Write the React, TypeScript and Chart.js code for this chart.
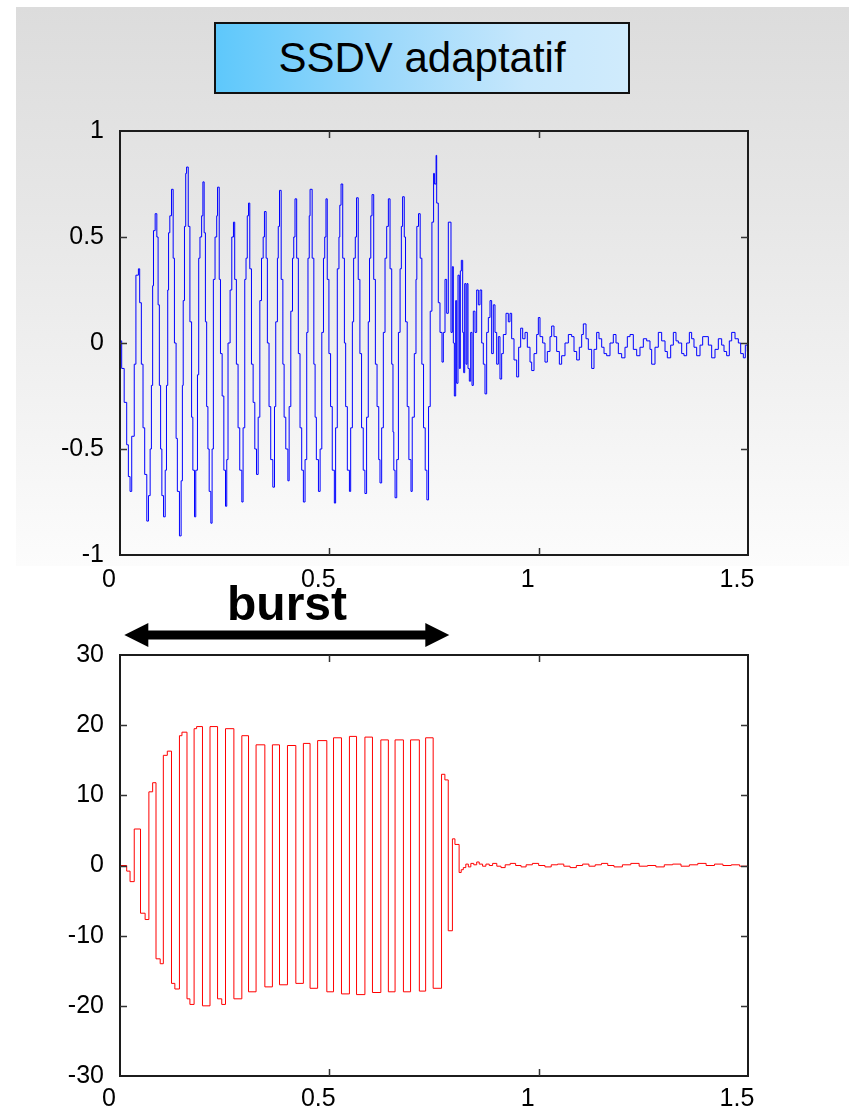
import React, { useEffect, useRef } from 'react';
import { Chart, registerables } from 'chart.js';

Chart.register(...registerables);

// ---------- tick labels ----------
const xTickValues = [0, 0.5, 1, 1.5];
const xTickLabels = ['0', '0.5', '1', '1.5'];
const topYTickValues = [-1, -0.5, 0, 0.5, 1];
const topYTickLabels = ['-1', '-0.5', '0', '0.5', '1'];
const bottomYTickValues = [-30, -20, -10, 0, 10, 20, 30];
const bottomYTickLabels = ['-30', '-20', '-10', '0', '10', '20', '30'];

// burst interval (seconds) marked by the double arrow
const burstSpan = [0.0103, 0.7865];

// ---------- top signal (blue), burst part ----------
const blueBurstT = [
  0.000, 0.004, 0.010, 0.016, 0.020, 0.024,
  0.028, 0.034, 0.038, 0.044, 0.047, 0.051, 0.055, 0.059, 0.064,
  0.068, 0.072, 0.075, 0.078, 0.080, 0.084, 0.088, 0.091, 0.094, 0.097, 0.100, 0.104,
  0.108, 0.111, 0.114, 0.116, 0.119, 0.123, 0.127, 0.130, 0.134, 0.137, 0.142,
  0.146, 0.149, 0.151, 0.154, 0.157, 0.159, 0.163, 0.167, 0.171, 0.174, 0.178,
  0.181, 0.185, 0.188, 0.191, 0.195, 0.198, 0.201, 0.204, 0.207, 0.210, 0.213, 0.217,
  0.220, 0.223, 0.227, 0.231, 0.233, 0.237, 0.240, 0.244, 0.248, 0.252,
  0.255, 0.258, 0.263, 0.267, 0.271, 0.274, 0.278, 0.282, 0.286, 0.291,
  0.294, 0.298, 0.301, 0.304, 0.307, 0.310, 0.314, 0.318, 0.322, 0.326,
  0.330, 0.334, 0.338, 0.342, 0.345, 0.349, 0.352, 0.356, 0.360, 0.365,
  0.369, 0.372, 0.376, 0.378, 0.381, 0.385, 0.389, 0.392, 0.396, 0.401,
  0.404, 0.408, 0.412, 0.415, 0.418, 0.422, 0.426, 0.430, 0.434, 0.438,
  0.442, 0.446, 0.449, 0.452, 0.454, 0.459, 0.463, 0.466, 0.469, 0.474,
  0.478, 0.482, 0.486, 0.489, 0.492, 0.495, 0.499, 0.503, 0.507, 0.512,
  0.515, 0.519, 0.523, 0.525, 0.528, 0.532, 0.536, 0.539, 0.543, 0.548,
  0.551, 0.555, 0.558, 0.562, 0.565, 0.569, 0.573, 0.577, 0.581, 0.585,
  0.589, 0.593, 0.596, 0.599, 0.602, 0.606, 0.610, 0.614, 0.618, 0.621,
  0.625, 0.629, 0.633, 0.637, 0.641, 0.645, 0.649, 0.652, 0.654, 0.657,
  0.661, 0.665, 0.669, 0.672, 0.675, 0.679, 0.682, 0.686, 0.690, 0.695,
  0.698, 0.703, 0.707, 0.709, 0.713, 0.717, 0.721, 0.725, 0.729, 0.733,
  0.737, 0.741, 0.745, 0.749, 0.751, 0.755,
];
const blueBurstV = [
  0.01, -0.12, -0.28, -0.48, -0.63, -0.70,
  -0.44, -0.10, 0.32, 0.35, 0.19, -0.10, -0.40, -0.62, -0.84,
  -0.72, -0.50, -0.20, 0.27, 0.53, 0.61, 0.50, 0.18, -0.20, -0.50, -0.72, -0.82,
  -0.60, -0.20, 0.25, 0.52, 0.60, 0.725, 0.40, 0.00, -0.45, -0.70, -0.91,
  -0.65, -0.20, 0.20, 0.55, 0.80, 0.83, 0.55, 0.10, -0.35, -0.60, -0.82,
  -0.60, -0.15, 0.40, 0.50, 0.60, 0.76, 0.52, 0.10, -0.30, -0.50, -0.70, -0.85,
  -0.50, 0.30, 0.50, 0.60, 0.735, 0.30, -0.05, -0.25, -0.60, -0.77,
  -0.55, 0.00, 0.25, 0.50, 0.57, 0.30, -0.10, -0.40, -0.60, -0.75,
  -0.40, 0.30, 0.40, 0.60, 0.66, 0.35, -0.10, -0.28, -0.50, -0.62,
  -0.35, 0.20, 0.40, 0.50, 0.62, 0.40, 0.00, -0.30, -0.55, -0.68,
  -0.30, 0.10, 0.40, 0.55, 0.72, 0.30, -0.10, -0.35, -0.50, -0.65,
  -0.30, 0.15, 0.40, 0.50, 0.68, 0.40, -0.05, -0.40, -0.60, -0.75,
  -0.55, 0.05, 0.40, 0.60, 0.725, 0.40, -0.10, -0.35, -0.55, -0.70,
  -0.50, 0.05, 0.40, 0.50, 0.68, 0.30, -0.05, -0.30, -0.60, -0.755,
  -0.40, 0.35, 0.50, 0.65, 0.75, 0.40, 0.00, -0.30, -0.60, -0.70,
  -0.40, 0.10, 0.40, 0.50, 0.685, 0.30, -0.05, -0.40, -0.60, -0.71,
  -0.35, 0.10, 0.40, 0.60, 0.70, 0.30, -0.10, -0.30, -0.55, -0.66,
  -0.40, 0.05, 0.40, 0.55, 0.68, 0.35, -0.10, -0.42, -0.60, -0.73,
  -0.55, 0.05, 0.35, 0.55, 0.69, 0.50, 0.10, -0.30, -0.55, -0.70,
  -0.35, -0.05, 0.30, 0.55, 0.61, 0.40, -0.10, -0.40, -0.60, -0.74,
  -0.30, 0.15, 0.57, 0.80, 0.75, 0.885,
];

// ---------- top signal (blue), decay / residual part ----------
const blueTailT = [
  0.7564, 0.7603, 0.7643, 0.7691, 0.7723, 0.7763, 0.7803, 0.7842, 0.7906, 0.7938,
  0.7962, 0.7986, 0.8018, 0.8041, 0.8073, 0.8105, 0.8129, 0.8153, 0.8185, 0.8209,
  0.8233, 0.8264, 0.8288, 0.8312, 0.8344, 0.8376, 0.8408, 0.8439, 0.8479, 0.8519,
  0.8559, 0.8599, 0.8639, 0.8678, 0.8718, 0.8758, 0.8798, 0.8838, 0.8877, 0.8917,
  0.8957, 0.8997, 0.9037, 0.9076, 0.9116, 0.9156, 0.9220, 0.9275, 0.9315, 0.9355,
  0.9411, 0.9475, 0.9522, 0.9570, 0.9618, 0.9674, 0.9729, 0.9793, 0.9833, 0.9889,
  0.9952, 0.9992, 1.0032, 1.0096, 1.0151, 1.0207, 1.0271, 1.0310, 1.0366, 1.0430,
  1.0494, 1.0549, 1.0629, 1.0709, 1.0788, 1.0844, 1.0908, 1.0971, 1.1027, 1.1067,
  1.1131, 1.1186, 1.1266, 1.1322, 1.1385, 1.1441, 1.1505, 1.1561, 1.1624, 1.1704,
  1.1783, 1.1847, 1.1903, 1.1982, 1.2062, 1.2118, 1.2182, 1.2261, 1.2341, 1.2420,
  1.2500, 1.2580, 1.2659, 1.2699, 1.2779, 1.2858, 1.2938, 1.3018, 1.3073, 1.3153,
  1.3217, 1.3280, 1.3336, 1.3416, 1.3471, 1.3535, 1.3599, 1.3654, 1.3710, 1.3774,
  1.3854, 1.3917, 1.3973, 1.4053, 1.4132, 1.4212, 1.4291, 1.4371, 1.4427, 1.4490,
  1.4554, 1.4610, 1.4690, 1.4769, 1.4825, 1.4889, 1.4936, 1.4984, 1.5000,
];
const blueTailV = [
  0.66, 0.19, 0.05, -0.09, 0.05, 0.30, 0.14, 0.57, 0.05, 0.36,
  0.00, -0.25, 0.20, -0.19, 0.32, -0.12, 0.34, 0.39, 0.05, -0.14,
  0.28, -0.10, 0.28, -0.12, -0.18, 0.05, -0.20, 0.15, 0.05, 0.25,
  0.18, 0.25, 0.00, -0.10, -0.24, 0.05, 0.12, 0.20, -0.05, 0.18,
  0.05, -0.10, 0.03, -0.17, -0.05, 0.04, 0.14, 0.10, 0.14, 0.02,
  -0.08, -0.16, -0.02, 0.07, 0.02, 0.05, -0.02, -0.09, -0.13, -0.05,
  0.04, 0.12, 0.03, 0.00, -0.09, -0.04, 0.03, 0.08, 0.03, -0.04,
  -0.10, -0.06, 0.00, 0.04, 0.03, -0.04, -0.08, -0.02, 0.04, 0.09,
  0.02, -0.03, -0.12, -0.03, 0.05, 0.02, -0.02, -0.05, -0.06, 0.00,
  0.04, 0.00, -0.05, -0.07, -0.02, 0.03, 0.04, -0.03, -0.06, -0.02,
  0.02, 0.01, -0.03, -0.10, -0.02, 0.05, 0.01, -0.04, -0.07, -0.01,
  0.05, 0.01, 0.00, -0.05, -0.06, 0.00, 0.05, 0.02, -0.02, -0.06,
  -0.01, 0.03, 0.03, -0.01, -0.07, -0.03, 0.02, -0.01, -0.04, -0.06,
  0.01, 0.05, 0.02, 0.00, -0.05, -0.07, -0.01, -0.04, 0.01,
];

// ---------- bottom signal (red), burst part ----------
const redBurstT = [
  0.000, 0.016, 0.024, 0.034, 0.049, 0.060, 0.069, 0.078, 0.086, 0.096,
  0.1035, 0.113, 0.123, 0.131, 0.142, 0.148, 0.160, 0.167, 0.177, 0.183,
  0.197, 0.215, 0.233, 0.243, 0.252, 0.272, 0.291, 0.307, 0.325, 0.346,
  0.364, 0.381, 0.400, 0.420, 0.438, 0.454, 0.472, 0.494, 0.510, 0.529,
  0.548, 0.565, 0.585, 0.603, 0.623, 0.641, 0.657, 0.677, 0.694, 0.715,
  0.730, 0.748, 0.768, 0.776, 0.784, 0.794, 0.800,
];
const redBurstV = [
  0, -0.8, -2.3, 5.2, -6.8, -7.7, 10.5, 11.8, -13.3, -14,
  15.7, 16.3, -16.8, -17.6, 18.5, 19, -19, -19.8, 19.5, 19.8,
  -20, 19.8, -19, -19.8, 19.5, -19, 18.5, -18, 17.2, -17.3,
  17.2, -17, 17.1, -16.8, 17.4, -17.5, 17.8, -18, 18.2, -18.3,
  18.4, -18.4, 18.3, -18.1, 17.9, -18, 17.9, -18, 17.9, -17.9,
  18.2, -17.5, 13, 12.2, -9.3, 3.8, 3.0,
];

// ---------- bottom signal (red), residual part ----------
const redTailT = [
  0.810, 0.815, 0.820, 0.826, 0.832, 0.838, 0.845, 0.852, 0.858, 0.866,
  0.874, 0.882, 0.890, 0.900, 0.910, 0.920, 0.932, 0.945, 0.958, 0.970,
  0.985, 1.000, 1.015, 1.030, 1.045, 1.060, 1.075, 1.090, 1.105, 1.120,
  1.135, 1.150, 1.165, 1.180, 1.200, 1.220, 1.240, 1.260, 1.280, 1.300,
  1.320, 1.340, 1.360, 1.380, 1.400, 1.420, 1.440, 1.460, 1.480, 1.500,
];
const redTailV = [
  -1.0, -0.6, -0.3, 0.2, -0.2, 0.3, 0.1, 0.5, 0.2, -0.1,
  0.2, 0.0, 0.3, -0.1, -0.3, 0.1, 0.3, 0.0, -0.2, 0.1,
  0.3, 0.0, -0.2, 0.1, 0.2, -0.1, -0.3, 0.0, 0.2, -0.1,
  0.1, 0.3, 0.0, -0.2, 0.1, 0.3, -0.1, 0.0, -0.2, 0.1,
  0.2, -0.1, 0.1, 0.3, 0.0, 0.2, 0.0, 0.1, -0.1, 0.0,
];

const FONT_FAMILY = "'Liberation Sans', Arial, Helvetica, sans-serif";

function toPoints(ts: number[], vs: number[]) {
  const n = Math.min(ts.length, vs.length);
  const out: { x: number; y: number }[] = [];
  for (let i = 0; i < n; i++) out.push({ x: ts[i], y: vs[i] });
  return out;
}

const framePlugin = {
  id: 'frameBox',
  afterDatasetsDraw(chart: any) {
    const { ctx, chartArea: a, scales } = chart;
    const xs = scales.x;
    const ys = scales.y;
    ctx.save();
    ctx.strokeStyle = '#1c1c1c';
    ctx.lineWidth = 2;
    ctx.strokeRect(a.left, a.top, a.right - a.left, a.bottom - a.top);
    ctx.strokeStyle = '#333';
    ctx.lineWidth = 1.5;
    const L = 7;
    ctx.beginPath();
    xs.ticks.forEach((t: any) => {
      if (t.value <= xs.min || t.value >= xs.max) return;
      const px = Math.round(xs.getPixelForValue(t.value)) + 0.5;
      ctx.moveTo(px, a.bottom);
      ctx.lineTo(px, a.bottom - L);
      ctx.moveTo(px, a.top);
      ctx.lineTo(px, a.top + L);
    });
    ys.ticks.forEach((t: any) => {
      if (t.value <= ys.min || t.value >= ys.max) return;
      const py = Math.round(ys.getPixelForValue(t.value)) + 0.5;
      ctx.moveTo(a.left, py);
      ctx.lineTo(a.left + L, py);
      ctx.moveTo(a.right, py);
      ctx.lineTo(a.right - L, py);
    });
    ctx.stroke();
    ctx.restore();
  },
};

const arrowPlugin = {
  id: 'burstArrow',
  afterDraw(chart: any) {
    const { ctx, chartArea, scales } = chart;
    const xs = scales.x;
    const x1 = xs.getPixelForValue(burstSpan[0]);
    const x2 = xs.getPixelForValue(burstSpan[1]);
    const y = chartArea.top - 20;
    const head = 24;
    const half = 12;
    const shaft = 9;
    ctx.save();
    ctx.fillStyle = '#000';
    ctx.fillRect(x1 + head - 1, y - shaft / 2, x2 - x1 - 2 * head + 2, shaft);
    ctx.beginPath();
    ctx.moveTo(x1, y);
    ctx.lineTo(x1 + head, y - half);
    ctx.lineTo(x1 + head, y + half);
    ctx.closePath();
    ctx.fill();
    ctx.beginPath();
    ctx.moveTo(x2, y);
    ctx.lineTo(x2 - head, y - half);
    ctx.lineTo(x2 - head, y + half);
    ctx.closePath();
    ctx.fill();
    ctx.restore();
  },
};

function makeScales(
  yMin: number,
  yMax: number,
  yVals: number[],
  yLabels: string[],
  xAxisHeight: number,
  xPad: number
) {
  const font = { family: FONT_FAMILY, size: 25 };
  return {
    x: {
      type: 'linear' as const,
      min: 0,
      max: 1.5,
      afterBuildTicks: (s: any) => {
        s.ticks = xTickValues.map((v) => ({ value: v }));
      },
      afterFit: (s: any) => {
        s.height = xAxisHeight;
      },
      grid: { display: false, drawTicks: false },
      border: { display: false },
      ticks: {
        color: '#000',
        font,
        padding: xPad,
        labelOffset: -11,
        maxRotation: 0,
        autoSkip: false,
        callback: (v: any) => {
          const i = xTickValues.indexOf(Number(v));
          return i >= 0 ? xTickLabels[i] : '';
        },
      },
    },
    y: {
      type: 'linear' as const,
      min: yMin,
      max: yMax,
      afterBuildTicks: (s: any) => {
        s.ticks = yVals.map((v) => ({ value: v }));
      },
      afterFit: (s: any) => {
        s.width = 120;
      },
      grid: { display: false, drawTicks: false },
      border: { display: false },
      ticks: {
        color: '#000',
        font,
        padding: 16,
        autoSkip: false,
        callback: (v: any) => {
          const i = yVals.indexOf(Number(v));
          return i >= 0 ? yLabels[i] : '';
        },
      },
    },
  };
}

export default function App() {
  const topRef = useRef<HTMLCanvasElement | null>(null);
  const botRef = useRef<HTMLCanvasElement | null>(null);

  useEffect(() => {
    if (!topRef.current || !botRef.current) return;
    const blueData = toPoints([...blueBurstT, ...blueTailT], [...blueBurstV, ...blueTailV]);
    const redData = toPoints([...redBurstT, ...redTailT], [...redBurstV, ...redTailV]);

    const top = new Chart(topRef.current, {
      type: 'line',
      data: {
        datasets: [
          {
            data: blueData,
            borderColor: '#0000ff',
            borderWidth: 1,
            pointRadius: 0,
            stepped: true,
            fill: false,
          },
        ],
      },
      options: {
        responsive: false,
        animation: false,
        events: [],
        layout: { padding: { left: 0, right: 101, top: 31, bottom: 0 } },
        plugins: { legend: { display: false }, tooltip: { enabled: false } },
        scales: makeScales(-1, 1, topYTickValues, topYTickLabels, 55, 10) as any,
      },
      plugins: [framePlugin],
    });

    const bottom = new Chart(botRef.current, {
      type: 'line',
      data: {
        datasets: [
          {
            data: redData,
            borderColor: '#ff0000',
            borderWidth: 1,
            pointRadius: 0,
            stepped: true,
            fill: false,
          },
        ],
      },
      options: {
        responsive: false,
        animation: false,
        events: [],
        layout: { padding: { left: 0, right: 101, top: 43, bottom: 0 } },
        plugins: { legend: { display: false }, tooltip: { enabled: false } },
        scales: makeScales(-30, 30, bottomYTickValues, bottomYTickLabels, 36, 8) as any,
      },
      plugins: [framePlugin, arrowPlugin],
    });

    return () => {
      top.destroy();
      bottom.destroy();
    };
  }, []);

  return (
    <div
      style={{
        position: 'absolute',
        left: 0,
        top: 0,
        width: 849,
        height: 1112,
        overflow: 'hidden',
        background: '#ffffff',
        fontFamily: FONT_FAMILY,
      }}
    >
      <div
        style={{
          position: 'absolute',
          left: 16,
          top: 7,
          width: 833,
          height: 559,
          background: 'linear-gradient(to bottom, #dcdcdc 0%, #e6e6e6 35%, #fcfcfc 100%)',
        }}
      />
      <div
        style={{
          position: 'absolute',
          left: 214,
          top: 22,
          width: 416,
          height: 72,
          boxSizing: 'border-box',
          border: '2px solid #111',
          background: 'linear-gradient(to right, #5ec8fb 0%, #9ad8fb 40%, #c6e7fc 75%, #d0ebfc 100%)',
          display: 'flex',
          alignItems: 'center',
          justifyContent: 'center',
          fontSize: 42,
          color: '#000',
          whiteSpace: 'nowrap',
        }}
      >
        SSDV adaptatif
      </div>
      <canvas
        ref={topRef}
        width={849}
        height={510}
        style={{ position: 'absolute', left: 0, top: 100, width: 849, height: 510 }}
      />
      <canvas
        ref={botRef}
        width={849}
        height={500}
        style={{ position: 'absolute', left: 0, top: 612, width: 849, height: 500 }}
      />
      <div
        style={{
          position: 'absolute',
          left: 187,
          top: 580,
          width: 200,
          textAlign: 'center',
          fontSize: 48,
          lineHeight: '48px',
          fontWeight: 'bold',
          color: '#000',
        }}
      >
        burst
      </div>
    </div>
  );
}
